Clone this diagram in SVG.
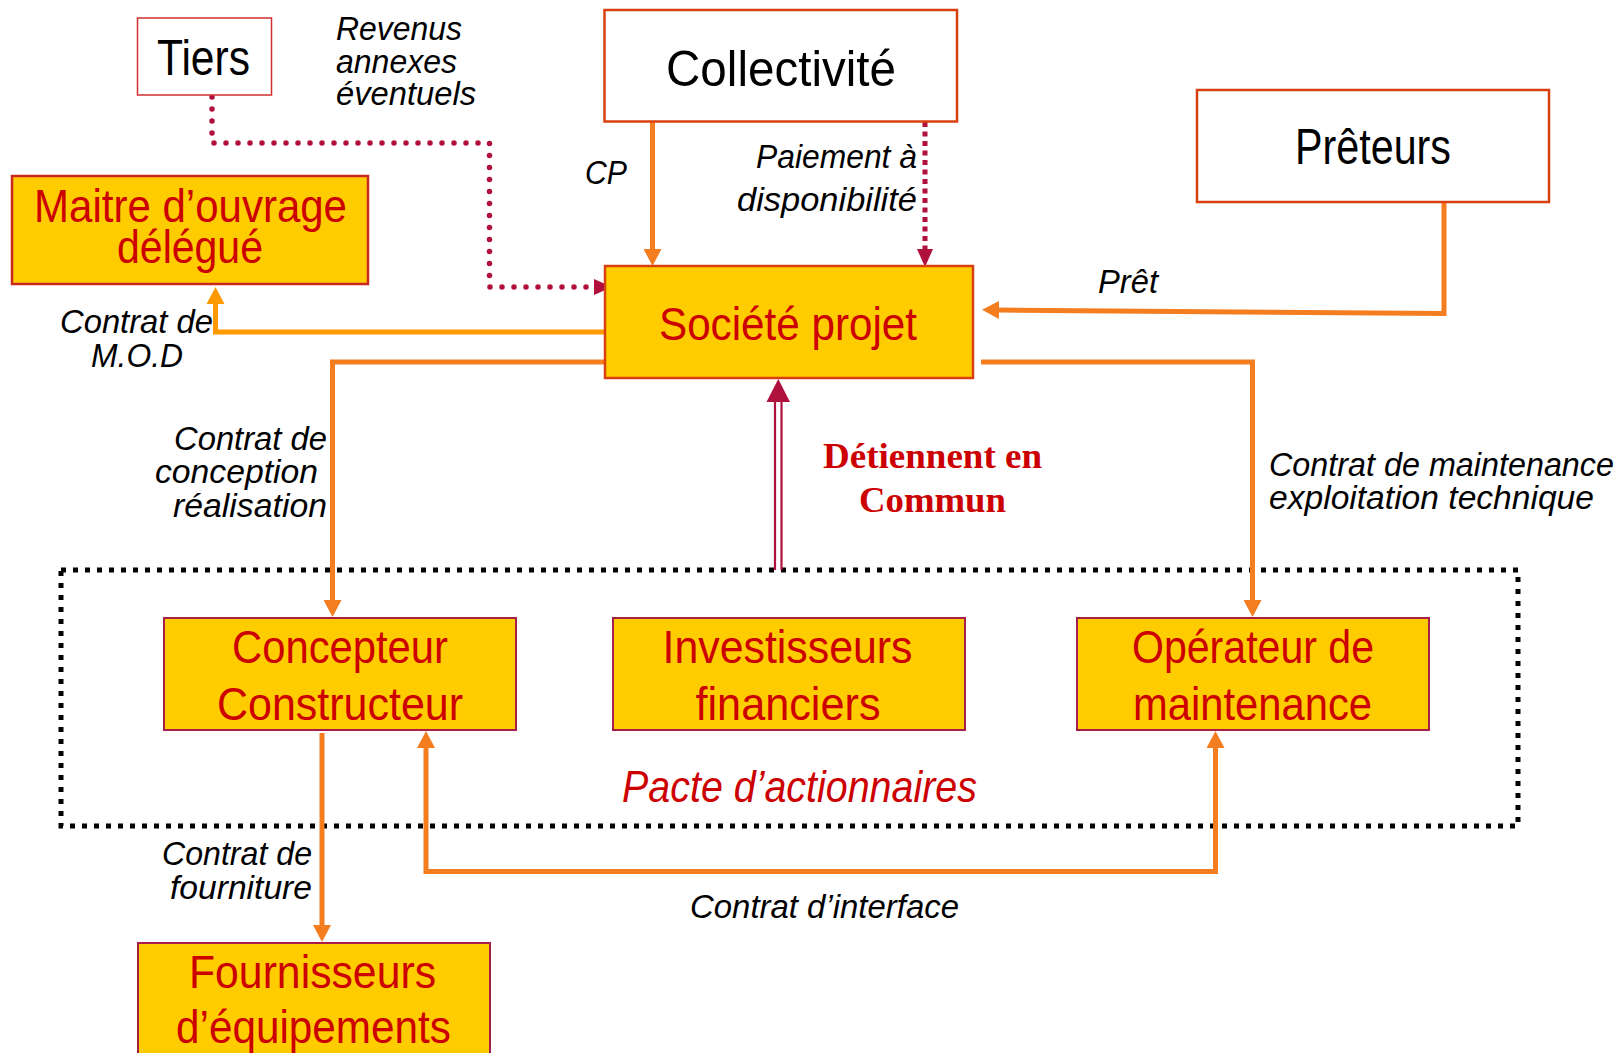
<svg xmlns="http://www.w3.org/2000/svg" width="1623" height="1053" viewBox="0 0 1623 1053">
  <style>
    .lbl { font-family: "Liberation Sans Narrow", "Liberation Sans", Arial, sans-serif; }
    .box-w { fill: #FFFFFF; stroke: #D84010; stroke-width: 2.5; }
    .box-y { fill: #FFCC00; stroke: #D84010; stroke-width: 2.5; }
    .box-m { fill: #FFCC00; stroke: #A81E48; stroke-width: 2; }
    .t-big { font-size: 50px; fill: #000000; }
    .t-box { font-size: 46px; fill: #CC0000; }
    .t-it { font-size: 34px; font-style: italic; fill: #000000; }
    .t-serif { font-family: "Liberation Serif", "Times New Roman", serif; font-weight: bold; font-size: 36px; fill: #CC0000; }
    .ln-o { fill: none; stroke: #F47D20; stroke-width: 5; }
    .ln-y { fill: none; stroke: #FF9900; stroke-width: 5; }
    .ln-dot { fill: none; stroke: #B0103C; stroke-width: 5.5; stroke-linecap: round; stroke-dasharray: 0 12; }
    .ln-dash { fill: none; stroke: #B0103C; stroke-width: 5; stroke-dasharray: 5 4.5; }
    .ln-dbl { fill: none; stroke: #B0103C; stroke-width: 2.2; }
  </style>
  <defs>
    <marker id="arr-o" markerUnits="userSpaceOnUse" viewBox="0 0 18 18" markerWidth="18" markerHeight="18" refX="0" refY="9" orient="auto-start-reverse">
      <path d="M0,0 L17,9 L0,18 Z" fill="#F47D20"/>
    </marker>
    <marker id="arr-y" markerUnits="userSpaceOnUse" viewBox="0 0 18 18" markerWidth="18" markerHeight="18" refX="0" refY="9" orient="auto">
      <path d="M0,0 L17,9 L0,18 Z" fill="#FF9900"/>
    </marker>
    <marker id="arr-c" markerUnits="userSpaceOnUse" viewBox="0 0 18 16" markerWidth="18" markerHeight="16" refX="0" refY="8" orient="auto">
      <path d="M0,0 L18,8 L0,16 Z" fill="#B0103C"/>
    </marker>
  </defs>

  <!-- shareholders' agreement frame -->
  <g id="pacte">
    <rect x="61" y="570" width="1457" height="256" fill="none" stroke="#000000" stroke-width="5" stroke-dasharray="5 7"/>
    <text class="lbl" x="622" y="802" font-size="44" font-style="italic" fill="#CC0000" textLength="355" lengthAdjust="spacingAndGlyphs">Pacte d’actionnaires</text>
  </g>

  <!-- connectors -->
  <g id="connectors">
    <!-- Tiers -> Société projet -->
    <path class="ln-dot" d="M212,97 V143 H489.5 V287 H594" marker-end="url(#arr-c)"/>
    <!-- Collectivité -> Société projet (CP) -->
    <path class="ln-o" d="M652.5,122 V249" marker-end="url(#arr-o)"/>
    <!-- Collectivité -> Société projet (paiement) -->
    <path class="ln-dash" d="M925,122 V249" marker-end="url(#arr-c)"/>
    <!-- Prêteurs -> Société projet -->
    <path class="ln-o" d="M1444,202 V313.5 L999,310" marker-end="url(#arr-o)"/>
    <!-- Société projet -> MOD -->
    <path class="ln-y" d="M605,332 H215.5 V304" marker-end="url(#arr-y)"/>
    <!-- Société projet -> Concepteur -->
    <path class="ln-o" d="M605,362 H332.5 V600" marker-end="url(#arr-o)"/>
    <!-- Société projet -> Opérateur -->
    <path class="ln-o" d="M981,362 H1252.5 V600" marker-end="url(#arr-o)"/>
    <!-- shareholders -> Société projet (double line) -->
    <line class="ln-dbl" x1="775" y1="570" x2="775" y2="400"/>
    <line class="ln-dbl" x1="781.5" y1="570" x2="781.5" y2="400"/>
    <polygon points="778.3,379 766.5,402 790,402" fill="#B0103C"/>
    <!-- Concepteur -> Fournisseurs -->
    <path class="ln-o" d="M322,733 V925" marker-end="url(#arr-o)"/>
    <!-- interface contract, both ends -->
    <path class="ln-o" d="M426,748 V871.5 H1215.5 V748" marker-start="url(#arr-o)" marker-end="url(#arr-o)"/>
  </g>

  <!-- connector labels -->
  <g id="labels" class="lbl">
    <text class="t-it" x="336" y="40" textLength="126" lengthAdjust="spacingAndGlyphs">Revenus</text>
    <text class="t-it" x="336" y="73" textLength="121" lengthAdjust="spacingAndGlyphs">annexes</text>
    <text class="t-it" x="336" y="105" textLength="140" lengthAdjust="spacingAndGlyphs">éventuels</text>
    <text class="t-it" x="585" y="184" font-size="36" textLength="42" lengthAdjust="spacingAndGlyphs">CP</text>
    <text class="t-it" x="756" y="168" textLength="161" lengthAdjust="spacingAndGlyphs">Paiement à</text>
    <text class="t-it" x="737" y="211" textLength="180" lengthAdjust="spacingAndGlyphs">disponibilité</text>
    <text class="t-it" x="1098" y="293" textLength="60" lengthAdjust="spacingAndGlyphs">Prêt</text>
    <text class="t-it" x="60" y="333" textLength="153" lengthAdjust="spacingAndGlyphs">Contrat de</text>
    <text class="t-it" x="91" y="367" textLength="92" lengthAdjust="spacingAndGlyphs">M.O.D</text>
    <text class="t-it" x="174" y="450" textLength="153" lengthAdjust="spacingAndGlyphs">Contrat de</text>
    <text class="t-it" x="155" y="483" textLength="163" lengthAdjust="spacingAndGlyphs">conception</text>
    <text class="t-it" x="173" y="517" textLength="154" lengthAdjust="spacingAndGlyphs">réalisation</text>
    <text class="t-serif" x="823" y="468" textLength="219" lengthAdjust="spacingAndGlyphs">Détiennent en</text>
    <text class="t-serif" x="859" y="512" textLength="147" lengthAdjust="spacingAndGlyphs">Commun</text>
    <text class="t-it" x="1269" y="476" textLength="345" lengthAdjust="spacingAndGlyphs">Contrat de maintenance</text>
    <text class="t-it" x="1269" y="509" textLength="325" lengthAdjust="spacingAndGlyphs">exploitation technique</text>
    <text class="t-it" x="162" y="865" textLength="150" lengthAdjust="spacingAndGlyphs">Contrat de</text>
    <text class="t-it" x="170" y="899" textLength="142" lengthAdjust="spacingAndGlyphs">fourniture</text>
    <text class="t-it" x="690" y="918" textLength="269" lengthAdjust="spacingAndGlyphs">Contrat d’interface</text>
  </g>

  <!-- nodes -->
  <g id="tiers" class="lbl">
    <rect x="137.5" y="18" width="134" height="77" fill="#FFFFFF" stroke="#D03030" stroke-width="1.5"/>
    <text class="t-big" x="157" y="75" font-size="46" textLength="93" lengthAdjust="spacingAndGlyphs">Tiers</text>
  </g>
  <g id="collectivite" class="lbl">
    <rect class="box-w" x="604.5" y="10" width="352.5" height="111.5"/>
    <text class="t-big" x="666" y="86" textLength="230" lengthAdjust="spacingAndGlyphs">Collectivité</text>
  </g>
  <g id="preteurs" class="lbl">
    <rect class="box-w" x="1197" y="90" width="352" height="112"/>
    <text class="t-big" x="1295" y="164" textLength="156" lengthAdjust="spacingAndGlyphs">Prêteurs</text>
  </g>
  <g id="mod" class="lbl">
    <rect x="12" y="176" width="356" height="108" fill="#FFCC00" stroke="#C8281E" stroke-width="2.5"/>
    <text class="t-box" x="34" y="222" font-size="45" textLength="313" lengthAdjust="spacingAndGlyphs">Maitre d’ouvrage</text>
    <text class="t-box" x="117" y="263" font-size="45" textLength="146" lengthAdjust="spacingAndGlyphs">délégué</text>
  </g>
  <g id="societe" class="lbl">
    <rect class="box-y" x="605" y="266" width="368" height="112"/>
    <text class="t-box" x="659" y="340" font-size="47" textLength="258" lengthAdjust="spacingAndGlyphs">Société projet</text>
  </g>
  <g id="concepteur" class="lbl">
    <rect class="box-m" x="164" y="618" width="352" height="112"/>
    <text class="t-box" x="232" y="663" textLength="216" lengthAdjust="spacingAndGlyphs">Concepteur</text>
    <text class="t-box" x="217" y="720" textLength="246" lengthAdjust="spacingAndGlyphs">Constructeur</text>
  </g>
  <g id="investisseurs" class="lbl">
    <rect class="box-m" x="613" y="618" width="352" height="112"/>
    <text class="t-box" x="662.5" y="663" textLength="250" lengthAdjust="spacingAndGlyphs">Investisseurs</text>
    <text class="t-box" x="695.5" y="720" textLength="185" lengthAdjust="spacingAndGlyphs">financiers</text>
  </g>
  <g id="operateur" class="lbl">
    <rect class="box-m" x="1077" y="618" width="352" height="112"/>
    <text class="t-box" x="1132" y="663" textLength="242" lengthAdjust="spacingAndGlyphs">Opérateur de</text>
    <text class="t-box" x="1133" y="720" textLength="239" lengthAdjust="spacingAndGlyphs">maintenance</text>
  </g>
  <g id="fournisseurs" class="lbl">
    <rect class="box-m" x="138" y="943" width="352" height="125"/>
    <text class="t-box" x="189" y="988" textLength="247" lengthAdjust="spacingAndGlyphs">Fournisseurs</text>
    <text class="t-box" x="176" y="1043" textLength="275" lengthAdjust="spacingAndGlyphs">d’équipements</text>
  </g>
</svg>
